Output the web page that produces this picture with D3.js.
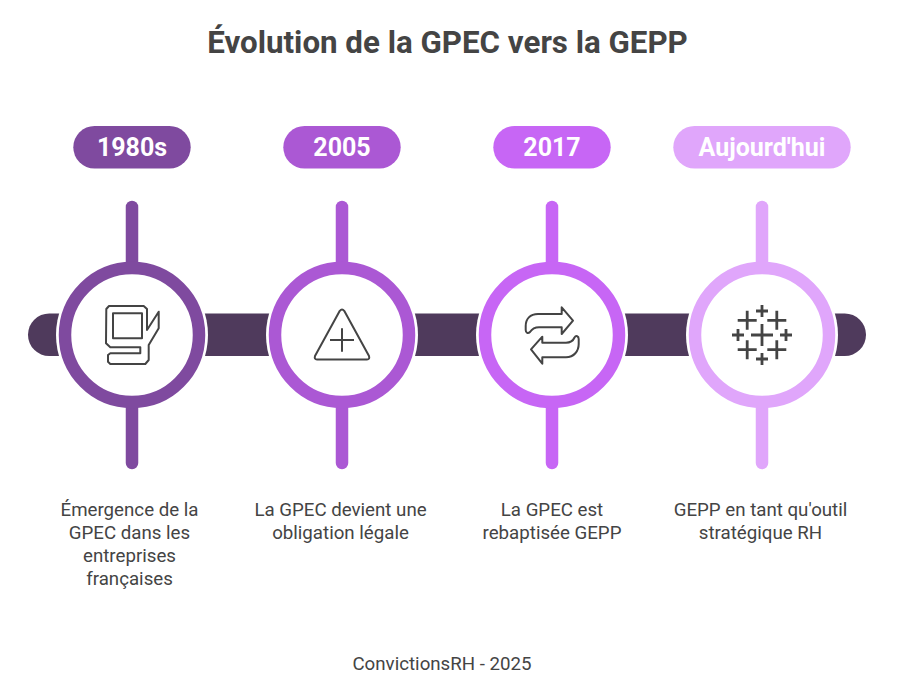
<!DOCTYPE html>
<html><head><meta charset="utf-8">
<script src="https://cdn.jsdelivr.net/npm/d3@7"></script>
<style>html,body{margin:0;padding:0;background:#fff}svg{display:block}text{font-family:Roboto,sans-serif}</style>
</head><body><svg id="c" width="918" height="696"></svg>
<script>
const titleText = "Évolution de la GPEC vers la GEPP";
const footerText = "ConvictionsRH - 2025";
const periods = ["1980s","2005","2017","Aujourd'hui"];
const colors = ["#7f4a9f","#ab58d4","#c766f5","#e0a6fb"];
const descriptions = [
  ["Émergence de la","GPEC dans les","entreprises","françaises"],
  ["La GPEC devient une","obligation légale"],
  ["La GPEC est","rebaptisée GEPP"],
  ["GEPP en tant qu'outil","stratégique RH"]
];
const iconPaths = [
  ["M-25.7,-26 L-23,-29 L11.7,-29 L15,-26 L15,-5 L26.7,-23.3 L26.7,-6.7 L16.7,10 L16.7,25 L13.3,29 L-21.7,29 L-24,26.7 L-24,20 L-21.7,18.3 L8.3,18.3 L8.3,12.3 L-21.7,12.3 L-26,8.3 Z",
   "M-19,-21.7 H10 V3.3 H-19 Z"],
  ["M-2.2,-24.2 Q0,-26.8 2.2,-24.2 L27,21 Q28,24.5 25,24.5 L-25,24.5 Q-28,24.5 -27,21 Z",
   "M-12,5 H12 M0,-6.7 V16.7"],
  ["M21,-14.3 L9.7,-27.7 L9.7,-21 L-14,-21 C-22,-21 -26.3,-16 -26.3,-9 L-26.3,-5 C-26.3,-2 -24,-1 -22,-3 C-20,-6 -17,-7.7 -13,-7.7 L9.7,-7.7 L9.7,-1 Z",
   "M-21,14.3 L-9.7,1.7 L-9.7,7.7 L14,7.7 C18,7.7 21,6 22.5,2.5 C24,0 26.7,1 26.7,4 L26.7,9 C26.7,16 22,22.3 14,22.3 L-9.7,22.3 L-9.7,28.7 Z"],
  ["M-11,0 H11 M0,-11 V11",
   "M-24.3,-14.7 H-5.3 M-14.8,-24.2 V-5.2","M5.3,-14.7 H24.3 M14.8,-24.2 V-5.2",
   "M-24.3,14.7 H-5.3 M-14.8,5.2 V24.2","M5.3,14.7 H24.3 M14.8,5.2 V24.2",
   "M-6,-24 H6 M0,-30 V-18","M-6,24 H6 M0,18 V30","M-30,0 H-18 M-24,-6 V6","M18,0 H30 M24,-6 V6"]
];
const svg = d3.select("#c");
const x = d3.scalePoint().domain(periods).range([132,762]);
const cy = 335;
const textNudge = [-2.5,-1.5,0,-1.5];

svg.append("text").attr("x",447.5).attr("y",53).attr("text-anchor","middle")
  .attr("font-size",31.3).attr("font-weight",700).attr("fill","#444").text(titleText);

svg.append("rect").attr("x",28).attr("y",313.5).attr("width",838).attr("height",42.5)
  .attr("rx",21.25).attr("fill","#4f3a5c");

const g = svg.selectAll("g.step").data(periods).join("g").attr("class","step")
  .attr("transform",d=>`translate(${x(d)},0)`);

g.append("circle").attr("cy",cy).attr("r",76).attr("fill","#fff");
g.append("line").attr("y1",207).attr("y2",463).attr("stroke",(d,i)=>colors[i])
  .attr("stroke-width",12.5).attr("stroke-linecap","round");
g.append("circle").attr("cy",cy).attr("r",67).attr("fill","#fff")
  .attr("stroke",(d,i)=>colors[i]).attr("stroke-width",12.5);

g.append("rect").attr("x",-58.7).attr("y",126).attr("width",117.4).attr("height",42.5).attr("rx",21.25)
  .attr("fill",(d,i)=>colors[i]);
d3.select(g.nodes()[3]).select("rect").attr("x",-88.7).attr("width",177.4);
g.append("text").attr("y",156).attr("text-anchor","middle").attr("font-size",25).attr("font-weight",700)
  .attr("fill","#fff").text(d=>d);

g.each(function(d,i){
  const ig = d3.select(this).append("g").attr("transform",`translate(0,${cy})`);
  ig.selectAll("path").data(iconPaths[i]).join("path").attr("d",p=>p)
    .attr("fill","none").attr("stroke","#444").attr("stroke-width",i===3?2.8:2).attr("stroke-linejoin","round");
  const t = d3.select(this).append("text").attr("text-anchor","middle").attr("font-size",18.7).attr("fill","#444");
  t.selectAll("tspan").data(descriptions[i]).join("tspan").attr("x",textNudge[i]).attr("y",(l,j)=>516+j*23).text(l=>l);
});

svg.append("text").attr("x",442).attr("y",669.5).attr("text-anchor","middle").attr("font-size",18.7)
  .attr("fill","#444").text(footerText);
</script></body></html>
